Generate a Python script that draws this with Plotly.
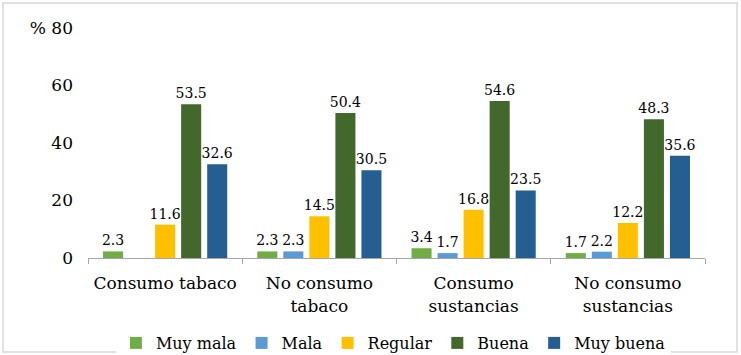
import plotly.graph_objects as go

# Self-rated health by tobacco / substance use (%)
categories = ["Consumo tabaco", "No consumo<br>tabaco", "Consumo<br>sustancias", "No consumo<br>sustancias"]
series_names = ["Muy mala", "Mala", "Regular", "Buena", "Muy buena"]
muy_mala = [2.3, 2.3, 3.4, 1.7]
mala = [None, 2.3, 1.7, 2.2]
regular = [11.6, 14.5, 16.8, 12.2]
buena = [53.5, 50.4, 54.6, 48.3]
muy_buena = [32.6, 30.5, 23.5, 35.6]
y_ticks = [0, 20, 40, 60, 80]
y_tick_labels = ["0", "20", "40", "60", "% 80"]

colors = ["#70AD47", "#5B9BD5", "#FFC000", "#43682B", "#255E91"]
values = [muy_mala, mala, regular, buena, muy_buena]

FONT = "DejaVu Serif"

fig = go.Figure()
for name, vals, col in zip(series_names, values, colors):
    fig.add_trace(go.Bar(
        name=name,
        x=categories,
        y=vals,
        marker=dict(color=col, line=dict(width=0)),
        text=[("" if v is None else f"{v:.1f}") for v in vals],
        textposition="outside",
        constraintext="none",
        textfont=dict(family=FONT, size=14, color="black"),
        cliponaxis=False,
    ))

W, H = 741, 355
ml, mr, mt, mb = 88, 36, 28, 97
pw, ph = W - ml - mr, H - mt - mb

fig.update_layout(
    width=W, height=H,
    margin=dict(l=ml, r=mr, t=mt, b=mb, autoexpand=False),
    paper_bgcolor="white", plot_bgcolor="white",
    barmode="group", bargap=0.156, bargroupgap=0.23,
    font=dict(family=FONT, size=17, color="black"),
    showlegend=True,
    legend=dict(orientation="h", x=0.495, xanchor="center",
                yref="container", y=1 - 326 / H, yanchor="top",
                font=dict(family=FONT, size=16, color="black"),
                itemwidth=30, tracegroupgap=0, traceorder="normal"),
    xaxis=dict(showline=True, linecolor="#A6A6A6", linewidth=1,
               ticks="outside", tickson="boundaries", ticklen=5, tickcolor="#A6A6A6",
               ticklabelstandoff=10,
               showgrid=False, tickfont=dict(family=FONT, size=17, color="black")),
    yaxis=dict(range=[0, 80], tickvals=y_ticks, ticktext=y_tick_labels,
               showgrid=False, showline=False, zeroline=False, ticks="",
               ticklabelstandoff=14,
               tickfont=dict(family=FONT, size=17, color="black")),
    shapes=[dict(type="rect", xref="paper", yref="paper",
                 x0=-(ml - 3) / pw, x1=1 + (mr - 4) / pw,
                 y0=-(mb - 3) / ph, y1=1 + (mt - 3) / ph,
                 line=dict(color="#D9D9D9", width=1.5), fillcolor="rgba(0,0,0,0)")],
)

fig.write_html("out.html")
